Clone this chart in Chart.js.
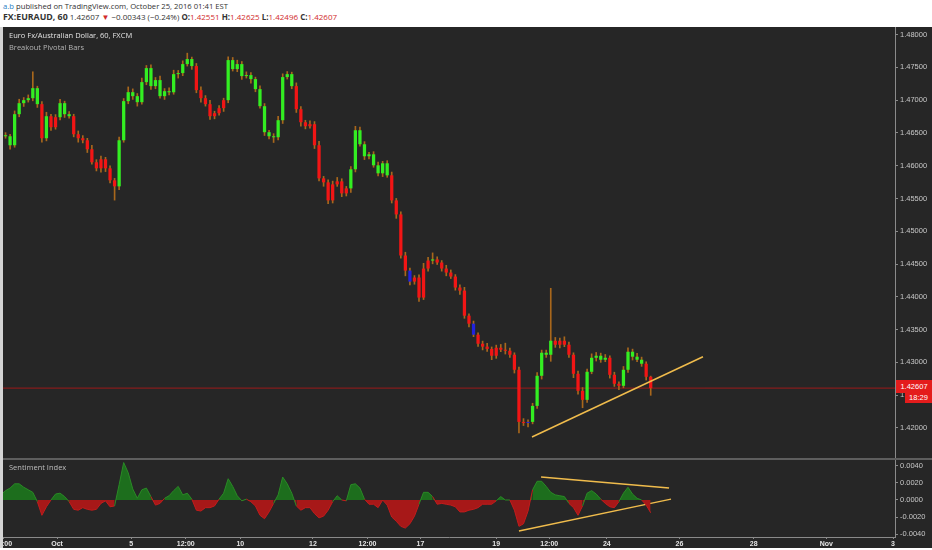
<!DOCTYPE html>
<html lang="en">
<head>
<meta charset="UTF-8">
<title>FX:EURAUD, 60 - Breakout Pivotal Bars</title>
<script src="https://cdn.jsdelivr.net/npm/chart.js"></script>
<style>
    body { margin: 0; width: 932px; height: 550px; background: #fff; overflow: hidden; position: relative; font-family: "Open Sans", sans-serif; }
    .hdr { position: absolute; left: 3px; font-size: 7.7px; line-height: 10px; color: #333; white-space: nowrap; }
    .hdr .blue { color: #2a7fc4; }
    .hdr .red { color: #d12b2b; }
    #frame { position: absolute; left: 0; top: 27px; width: 932px; height: 521px; background: #262626; border-left: 3px solid #d4d4d4; box-sizing: border-box; }
    #mainWrap { position: absolute; left: 0; top: 0; width: 929px; height: 431px; }
    #sep { position: absolute; left: 0; top: 431px; width: 929px; height: 2px; background: #5e5e5e; }
    #sentWrap { position: absolute; left: 0; top: 433px; width: 929px; height: 88px; }
    .lbl { position: absolute; left: 6px; font-size: 7.5px; white-space: nowrap; }
    .pbox { position: absolute; background: #e41c1c; color: #fff; font-family: "Liberation Sans", Arial, sans-serif; font-size: 7.5px; text-align: center; }
</style>
</head>
<body>
    <div class="hdr" style="top:1px"><span class="blue">a.b</span> published on TradingView.com, October 25, 2016 01:41 EST</div>
    <div class="hdr" style="top:11px;font-size:8px;line-height:12px"><b style="font-size:8.8px">FX:EURAUD, 60</b> 1.42607 <span class="red">&#9660;</span> &minus;0.00343 (&minus;0.24%) <b>O:</b><span class="red">1.42551</span> <b>H:</b><span class="red">1.42625</span> <b>L:</b><span class="red">1.42496</span> <b>C:</b><span class="red">1.42607</span></div>

    <div id="frame">
        <div id="mainWrap"><canvas id="priceChart"></canvas></div>
        <div id="sep"></div>
        <div id="sentWrap"><canvas id="sentChart"></canvas></div>
        <div class="lbl" style="top:3px;color:#e2e2e2">Euro Fx/Australian Dollar, 60, FXCM</div>
        <div class="lbl" style="top:15px;color:#b4b4b4">Breakout Pivotal Bars</div>
        <div class="lbl" style="top:435px;color:#bdbdbd">Sentiment Index</div>
        <div class="pbox" style="left:893px;top:353px;width:36px;height:13px;line-height:13px">1.42607</div>
        <div class="pbox" style="left:902px;top:366px;width:27px;height:10px;line-height:10px">18:29</div>
    </div>

<script>
    // 3-hour bars, x in trading hours from the left edge
    const barStepHours = 3;
    const firstOpen = 1.46420;
    const closes = [
        1.46465, 1.46449, 1.46312, 1.46786, 1.46954, 1.47000, 1.47030, 1.47183, 1.46939, 1.46419, 1.46755, 1.46587,
        1.46740, 1.46954, 1.46786, 1.46755, 1.46480, 1.46419, 1.46388, 1.46251, 1.46052, 1.45960, 1.46098, 1.45960,
        1.45777, 1.45685, 1.46388, 1.46985, 1.47122, 1.47061, 1.46969, 1.47275, 1.47489, 1.47214, 1.47306, 1.47061,
        1.47137, 1.47120, 1.47397, 1.47413, 1.47550, 1.47627, 1.47520, 1.47153, 1.47030, 1.46939, 1.46755, 1.46801,
        1.46878, 1.47000, 1.47611, 1.47474, 1.47550, 1.47367, 1.47382, 1.47321, 1.47168, 1.46908, 1.46511, 1.46449,
        1.46434, 1.46694, 1.47352, 1.47397, 1.47214, 1.46862, 1.46663, 1.46602, 1.46633, 1.46312, 1.45807, 1.45746,
        1.45471, 1.45715, 1.45761, 1.45578, 1.45654, 1.45945, 1.46541, 1.46327, 1.46144, 1.46174, 1.46006, 1.45884,
        1.46037, 1.45853, 1.45471, 1.45257, 1.44630, 1.44400, 1.44232, 1.44294, 1.43988, 1.44431, 1.44553, 1.44570,
        1.44523, 1.44431, 1.44370, 1.44309, 1.44141, 1.44095, 1.43712, 1.43590, 1.43422, 1.43284, 1.43240, 1.43205,
        1.43101, 1.43223, 1.43193, 1.43177, 1.43116, 1.42887, 1.42092, 1.42076, 1.42092, 1.42336, 1.42795, 1.43147,
        1.43116, 1.43330, 1.43269, 1.43330, 1.43269, 1.43116, 1.42826, 1.42566, 1.42428, 1.42856, 1.43070, 1.43101,
        1.43040, 1.43070, 1.42810, 1.42673, 1.42642, 1.42887, 1.43162, 1.43086, 1.43040, 1.42979, 1.42780, 1.42607
    ];
    // wick lengths beyond the body, in units of 0.0001
    const wickUp = [
        3, 4, 3, 5, 6, 4, 5, 25, 3, 4, 6, 3,
        4, 6, 3, 4, 3, 5, 4, 3, 6, 4, 5, 3,
        4, 3, 5, 4, 8, 5, 4, 6, 4, 5, 4, 6,
        4, 5, 6, 4, 5, 9, 3, 4, 5, 4, 6, 3,
        4, 3, 5, 4, 6, 4, 5, 4, 3, 5, 4, 3,
        4, 6, 5, 4, 3, 5, 4, 3, 5, 4, 6, 3,
        4, 5, 6, 4, 3, 4, 6, 5, 4, 3, 4, 5,
        3, 4, 5, 3, 4, 5, 4, 3, 4, 8, 5, 10,
        4, 3, 5, 4, 3, 4, 5, 3, 4, 3, 4, 5,
        3, 4, 5, 10, 4, 3, 4, 5, 3, 4, 5, 4,
        4, 80, 5, 4, 6, 4, 3, 4, 5, 4, 6, 5,
        4, 5, 3, 4, 3, 5, 6, 4, 5, 4, 3, 1
    ];
    const wickDn = [
        4, 3, 6, 3, 4, 5, 3, 4, 5, 6, 4, 5,
        3, 4, 5, 3, 4, 6, 4, 5, 3, 4, 6, 5,
        4, 21, 5, 3, 4, 5, 6, 3, 4, 5, 4, 3,
        5, 4, 3, 6, 4, 3, 5, 4, 6, 3, 5, 4,
        3, 5, 4, 3, 4, 5, 3, 6, 4, 3, 5, 4,
        8, 4, 5, 3, 4, 5, 6, 4, 3, 5, 4, 6,
        5, 4, 3, 5, 4, 6, 4, 3, 5, 4, 3, 4,
        5, 3, 4, 6, 4, 8, 5, 4, 6, 3, 4, 5,
        3, 4, 5, 3, 4, 6, 4, 5, 3, 4, 5, 4,
        6, 4, 3, 5, 4, 5, 17, 4, 6, 3, 4, 5,
        4, 10, 4, 5, 3, 4, 6, 5, 12, 4, 3, 5,
        4, 3, 5, 4, 6, 3, 4, 5, 3, 4, 5, 11
    ];
    // bar colour state: g = up trend, r = down trend, b = pivot
    const trendRuns = [
        ['g', 9], ['r', 1], ['g', 1], ['r', 2], ['g', 3], ['r', 10], ['g', 17], ['r', 7], ['g', 15],
        ['r', 12], ['g', 9], ['r', 4], ['b', 1], ['r', 4], ['g', 1], ['r', 8], ['b', 1], ['r', 11],
        ['b', 1], ['g', 5], ['r', 7], ['g', 5], ['r', 3], ['g', 5], ['r', 2]
    ];
    const sentiment = [
        0.0006, 0.0011, 0.0014, 0.0019, 0.0019, 0.0015, 0.0012, 0.0009, -0.0002, -0.0018, -0.0008, 0.0000,
        0.0007, 0.0008, 0.0004, -0.0002, -0.0011, -0.0012, -0.0009, -0.0011, -0.0012, -0.0011, -0.0004, -0.0001,
        -0.0008, -0.0007, 0.0018, 0.0044, 0.0032, 0.0013, 0.0002, 0.0012, 0.0014, 0.0004, -0.0006, -0.0004,
        0.0002, 0.0005, 0.0011, 0.0016, 0.0006, 0.0008, 0.0001, -0.0012, -0.0013, -0.0009, -0.0009, -0.0007,
        0.0001, 0.0008, 0.0025, 0.0016, 0.0005, -0.0001, 0.0001, -0.0002, -0.0007, -0.0018, -0.0022, -0.0014,
        -0.0004, 0.0006, 0.0027, 0.0019, 0.0008, -0.0007, -0.0012, -0.0009, -0.0009, -0.0016, -0.0021, -0.0019,
        -0.0012, -0.0002, 0.0005, 0.0000, -0.0001, 0.0018, 0.0019, 0.0014, 0.0001, -0.0005, -0.0005, -0.0009,
        0.0000, -0.0006, -0.0020, -0.0025, -0.0031, -0.0033, -0.0028, -0.0019, -0.0005, 0.0009, 0.0009, 0.0004,
        -0.0005, -0.0004, -0.0005, -0.0006, -0.0008, -0.0014, -0.0014, -0.0012, -0.0011, -0.0009, -0.0005, -0.0005,
        -0.0005, -0.0001, 0.0004, 0.0000, 0.0000, -0.0012, -0.0031, -0.0028, -0.0013, 0.0012, 0.0022, 0.0022,
        0.0016, 0.0009, 0.0006, 0.0005, 0.0004, -0.0004, -0.0009, -0.0018, -0.0007, 0.0008, 0.0011, 0.0007,
        0.0001, -0.0004, -0.0008, -0.0009, -0.0002, 0.0008, 0.0015, 0.0007, 0.0002, 0.0000, -0.0006, -0.0015
    ];
    const lastPrice = 1.42607;
    const priceTicks = [1.42, 1.425, 1.43, 1.435, 1.44, 1.445, 1.45, 1.455, 1.46, 1.465, 1.47, 1.475, 1.48];
    const sentTicks = [-0.004, -0.002, 0, 0.002, 0.004];
    const timeTickHours = [1.4, 37, 86, 122, 158, 206, 242, 277, 327, 362, 400, 448, 497, 545, 589];
    const timeTickLabels = ['12:00', 'Oct', '5', '12:00', '10', '12', '12:00', '17', '19', '12:00', '24', '26', '28', 'Nov', '3'];
    // hand drawn trend lines [hour, value]
    const priceTrend = [[350.6, 1.41862], [463.5, 1.43086]];
    const sentUpper = [[356.6, 0.0027], [441.1, 0.0014]];
    const sentLower = [[342, -0.00365], [442.4, 0.0001]];

    const xMin = 1.32, xMax = 590.3;
    const colors = { g: '#33ee22', r: '#f21515', b: '#2222dd' };
    const wickColor = '#a8671c';
    const trendColor = '#f0bc4c';

    Chart.defaults.font.family = "'Liberation Sans', Arial, sans-serif";
    Chart.defaults.animation = false;

    const hours = closes.map((c, i) => i * barStepHours);
    const opens = closes.map((c, i) => i ? closes[i - 1] : firstOpen);
    const barColors = [];
    trendRuns.forEach(([k, n]) => { for (let j = 0; j < n; j++) barColors.push(colors[k]); });

    const bodies = closes.map((c, i) => ({ x: hours[i], y: [opens[i], c] }));
    const wicks = closes.map((c, i) => ({
        x: hours[i],
        y: [Math.min(opens[i], c) - wickDn[i] * 1e-4, Math.max(opens[i], c) + wickUp[i] * 1e-4]
    }));
    const toPts = arr => arr.map(p => ({ x: p[0], y: p[1] }));

    function yAxis(min, max, ticks, digits) {
        return {
            position: 'right', min: min, max: max,
            afterBuildTicks: s => { s.ticks = ticks.map(v => ({ value: v })); },
            afterFit: s => { s.width = 37; s.paddingTop = 0; s.paddingBottom = 0; },
            grid: { drawOnChartArea: false, tickLength: 3, color: '#8a8a8a' },
            border: { color: '#8a8a8a' },
            ticks: { color: '#c8c8c8', padding: 2, font: { size: 7.5 }, callback: v => Number(v).toFixed(digits) }
        };
    }

    new Chart(document.getElementById('priceChart').getContext('2d'), {
        type: 'bar',
        data: {
            datasets: [
                { type: 'line', data: [{ x: xMin, y: lastPrice }, { x: xMax, y: lastPrice }], borderColor: '#9c1a1a', borderWidth: 1, pointRadius: 0, order: 3 },
                { data: wicks, backgroundColor: wickColor, barThickness: 1, grouped: false, order: 2 },
                { data: bodies, backgroundColor: barColors, barPercentage: 0.72, categoryPercentage: 1, grouped: false, minBarLength: 1, order: 1 },
                { type: 'line', data: toPts(priceTrend), borderColor: trendColor, borderWidth: 1.5, pointRadius: 0, order: 0 }
            ]
        },
        options: {
            responsive: true,
            maintainAspectRatio: false,
            layout: { padding: 0, autoPadding: false },
            plugins: { legend: { display: false }, tooltip: { enabled: false } },
            scales: {
                x: { type: 'linear', min: xMin, max: xMax, offset: false, display: false },
                y: yAxis(1.41541, 1.48116, priceTicks, 5)
            }
        }
    });

    new Chart(document.getElementById('sentChart').getContext('2d'), {
        type: 'line',
        data: {
            datasets: [
                {
                    data: sentiment.map((v, i) => ({ x: hours[i], y: v })),
                    fill: { target: 'origin', above: '#1d6e1d', below: '#a71818' },
                    borderWidth: 1, pointRadius: 0,
                    segment: { borderColor: c => (c.p0.parsed.y + c.p1.parsed.y) >= 0 ? '#2a8a26' : '#c21c1c' }
                },
                { data: toPts(sentUpper), borderColor: trendColor, borderWidth: 1.5, pointRadius: 0, fill: false },
                { data: toPts(sentLower), borderColor: trendColor, borderWidth: 1.5, pointRadius: 0, fill: false }
            ]
        },
        options: {
            responsive: true,
            maintainAspectRatio: false,
            layout: { padding: 0, autoPadding: false },
            plugins: { legend: { display: false }, tooltip: { enabled: false } },
            scales: {
                x: {
                    type: 'linear', min: xMin, max: xMax,
                    afterBuildTicks: s => { s.ticks = timeTickHours.map(v => ({ value: v })); },
                    afterFit: s => { s.height = 11; s.paddingLeft = 0; s.paddingRight = 0; },
                    grid: { drawOnChartArea: false, tickLength: 2, color: '#8a8a8a' },
                    border: { color: '#8a8a8a' },
                    ticks: {
                        autoSkip: false, maxRotation: 0, padding: 1, color: '#e4e4e4',
                        font: { size: 7, weight: 'bold' },
                        callback: (v, i) => timeTickLabels[i]
                    }
                },
                y: yAxis(-0.00435, 0.0047, sentTicks, 4)
            }
        }
    });
</script>
</body>
</html>
